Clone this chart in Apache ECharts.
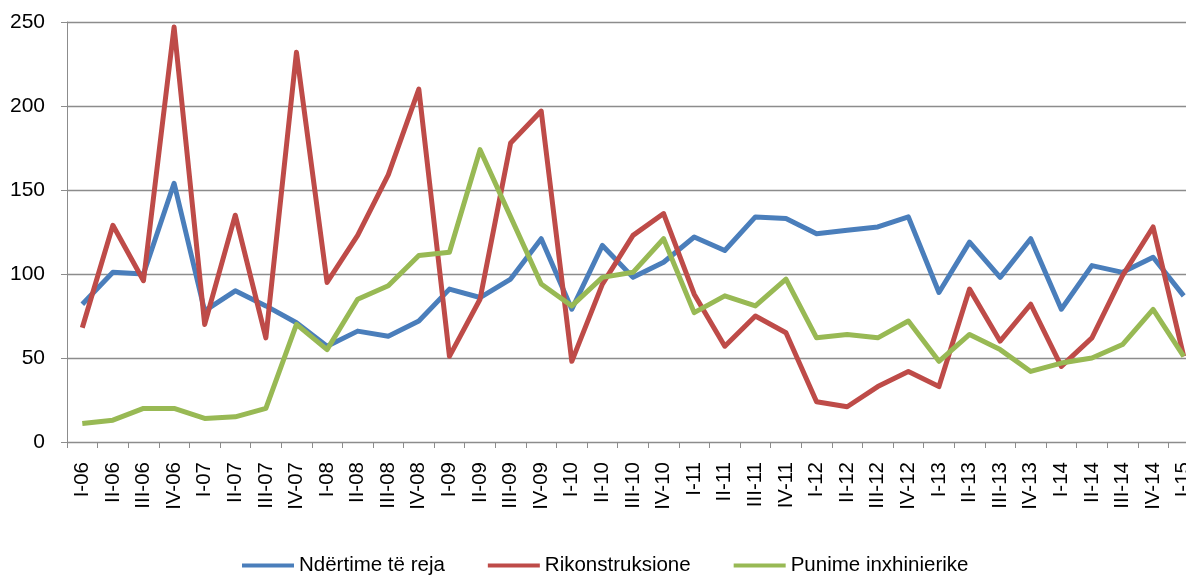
<!DOCTYPE html>
<html>
<head>
<meta charset="utf-8">
<script src="https://cdn.jsdelivr.net/npm/echarts@6/dist/echarts.min.js"></script>
<style>
  html, body { margin: 0; padding: 0; background: #fff; }
  #chartBox { width: 1186px; height: 575px; }
</style>
</head>
<body>
<div id="chartBox"></div>
<script>
const categories = [
  "I-06", "II-06", "III-06", "IV-06",
  "I-07", "II-07", "III-07", "IV-07",
  "I-08", "II-08", "III-08", "IV-08",
  "I-09", "II-09", "III-09", "IV-09",
  "I-10", "II-10", "III-10", "IV-10",
  "I-11", "II-11", "III-11", "IV-11",
  "I-12", "II-12", "III-12", "IV-12",
  "I-13", "II-13", "III-13", "IV-13",
  "I-14", "II-14", "III-14", "IV-14",
  "I-15"
];

const ndertime = [
  82, 101, 100, 154, 78, 90, 81, 71,
  57, 66, 63, 72, 91, 86, 97, 121,
  79, 117, 98, 107, 122, 114, 134, 133,
  124, 126, 128, 134, 89, 119, 98, 121,
  79, 105, 101, 110, 87
];

const rikonstruksione = [
  68, 129, 96, 247, 70, 135, 62, 232,
  95, 123, 159, 210, 51, 85, 178, 197,
  48, 94, 123, 136, 88, 57, 75, 65,
  24, 21, 33, 42, 33, 91, 60, 82,
  45, 62, 99, 128, 51
];

const punime = [
  11, 13, 20, 20, 14, 15, 20, 70,
  55, 85, 93, 111, 113, 174, 134, 94,
  81, 98, 101, 121, 77, 87, 81, 97,
  62, 64, 62, 72, 48, 64, 55, 42,
  47, 50, 58, 79, 51
];

const yTicks = { min: 0, max: 250, interval: 50 };

const gridColor = "#8c8c8c";
const font = "Liberation Sans";

const chartDom = document.getElementById("chartBox");
const myChart = echarts.init(chartDom);

const option = {
  animation: false,
  textStyle: { fontFamily: font },
  grid: {
    left: 67,
    top: 22,
    right: -13,
    bottom: 133,
    containLabel: false,
    outerBoundsMode: "none"
  },
  legend: {
    left: 237,
    top: 550,
    icon: "rect",
    itemWidth: 52,
    itemHeight: 4,
    itemGap: 43,
    textStyle: { fontSize: 20.5, color: "#000", fontFamily: font }
  },
  xAxis: {
    type: "category",
    data: categories,
    axisLine: { lineStyle: { color: gridColor, width: 1 } },
    axisTick: { show: true, length: 6, lineStyle: { color: gridColor } },
    axisLabel: {
      rotate: 90,
      margin: 20,
      interval: 0,
      fontSize: 20.5,
      color: "#000",
      fontFamily: font
    }
  },
  yAxis: {
    type: "value",
    min: yTicks.min,
    max: yTicks.max,
    interval: yTicks.interval,
    axisLine: { show: true, lineStyle: { color: gridColor, width: 1 } },
    axisTick: { show: true, length: 6, lineStyle: { color: gridColor } },
    splitLine: { lineStyle: { color: gridColor, width: 1.3 } },
    axisLabel: {
      margin: 22,
      fontSize: 21,
      color: "#000",
      fontFamily: font
    }
  },
  series: [
    {
      name: "Ndërtime të reja",
      type: "line",
      symbol: "none",
      data: ndertime,
      itemStyle: { color: "#4a7ebb" },
      lineStyle: { color: "#4a7ebb", width: 5, join: "round" }
    },
    {
      name: "Rikonstruksione",
      type: "line",
      symbol: "none",
      data: rikonstruksione,
      itemStyle: { color: "#be4b48" },
      lineStyle: { color: "#be4b48", width: 5, join: "round" }
    },
    {
      name: "Punime inxhinierike",
      type: "line",
      symbol: "none",
      data: punime,
      itemStyle: { color: "#98b954" },
      lineStyle: { color: "#98b954", width: 5, join: "round" }
    }
  ]
};

myChart.setOption(option);
</script>
</body>
</html>
